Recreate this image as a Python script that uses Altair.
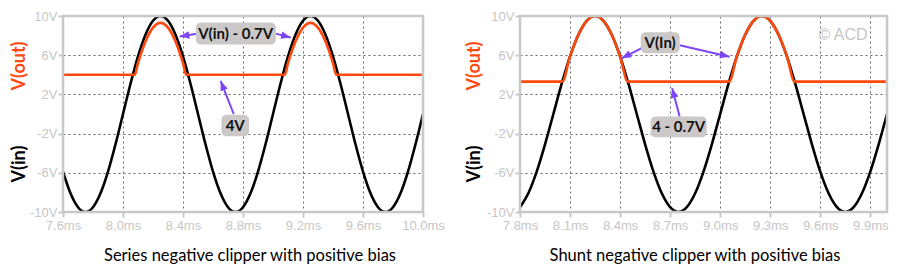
import altair as alt
import pandas as pd

# ---------------- data ----------------
# Left panel: series negative clipper with positive bias
s_t = [7.60, 7.65, 7.70, 7.75, 7.80, 7.85, 7.90, 7.95,
       8.00, 8.05, 8.10, 8.15, 8.20, 8.25, 8.30, 8.35, 8.40, 8.45,
       8.50, 8.55, 8.60, 8.65, 8.70, 8.75, 8.80, 8.85, 8.90, 8.95,
       9.00, 9.05, 9.10, 9.15, 9.20, 9.25, 9.30, 9.35, 9.40, 9.45,
       9.50, 9.55, 9.60, 9.65, 9.70, 9.75, 9.80, 9.85, 9.90, 9.95, 10.00]
s_vin = [-5.88, -8.09, -9.51, -10.0, -9.51, -8.09, -5.88, -3.09,
         0.0, 3.09, 5.88, 8.09, 9.51, 10.0, 9.51, 8.09, 5.88, 3.09,
         0.0, -3.09, -5.88, -8.09, -9.51, -10.0, -9.51, -8.09, -5.88, -3.09,
         0.0, 3.09, 5.88, 8.09, 9.51, 10.0, 9.51, 8.09, 5.88, 3.09,
         0.0, -3.09, -5.88, -8.09, -9.51, -10.0, -9.51, -8.09, -5.88, -3.09, 0.0]
s_out_t = [7.60, 8.078, 8.10, 8.15, 8.20, 8.25, 8.30, 8.35, 8.40, 8.422,
           9.078, 9.10, 9.15, 9.20, 9.25, 9.30, 9.35, 9.40, 9.422, 10.00]
s_vout = [4.0, 4.0, 5.18, 7.39, 8.81, 9.30, 8.81, 7.39, 5.18, 4.0,
          4.0, 5.18, 7.39, 8.81, 9.30, 8.81, 7.39, 5.18, 4.0, 4.0]

# Right panel: shunt negative clipper with positive bias
r_t = [7.80, 7.85, 7.90, 7.95,
       8.00, 8.05, 8.10, 8.15, 8.20, 8.25, 8.30, 8.35, 8.40, 8.45,
       8.50, 8.55, 8.60, 8.65, 8.70, 8.75, 8.80, 8.85, 8.90, 8.95,
       9.00, 9.05, 9.10, 9.15, 9.20, 9.25, 9.30, 9.35, 9.40, 9.45,
       9.50, 9.55, 9.60, 9.65, 9.70, 9.75, 9.80, 9.85, 9.90, 9.95, 10.00]
r_vin = [-9.51, -8.09, -5.88, -3.09,
         0.0, 3.09, 5.88, 8.09, 9.51, 10.0, 9.51, 8.09, 5.88, 3.09,
         0.0, -3.09, -5.88, -8.09, -9.51, -10.0, -9.51, -8.09, -5.88, -3.09,
         0.0, 3.09, 5.88, 8.09, 9.51, 10.0, 9.51, 8.09, 5.88, 3.09,
         0.0, -3.09, -5.88, -8.09, -9.51, -10.0, -9.51, -8.09, -5.88, -3.09, 0.0]
r_out_t = [7.80, 8.054, 8.10, 8.15, 8.20, 8.25, 8.30, 8.35, 8.40, 8.446,
           9.054, 9.10, 9.15, 9.20, 9.25, 9.30, 9.35, 9.40, 9.446, 10.00]
r_vout = [3.3, 3.3, 5.88, 8.09, 9.51, 10.0, 9.51, 8.09, 5.88, 3.3,
          3.3, 5.88, 8.09, 9.51, 10.0, 9.51, 8.09, 5.88, 3.3, 3.3]

y_ticks = [-10, -6, -2, 2, 6, 10]
s_x_ticks = [7.6, 8.0, 8.4, 8.8, 9.2, 9.6, 10.0]
r_x_ticks = [7.8, 8.1, 8.4, 8.7, 9.0, 9.3, 9.6, 9.9]

# annotation labels (anchored in data units)
s_box_label = ["V(in) - 0.7V", "4V"]
s_box_t0 = [8.486, 8.656]
s_box_t1 = [9.019, 8.840]
s_box_v0 = [9.33, -0.07]
s_box_v1 = [7.08, -2.28]
s_box_tc = [8.751, 8.748]
s_box_vc = [8.205, -1.18]
s_arr_t0 = [8.493, 9.018, 8.738]
s_arr_v0 = [8.20, 8.20, 0.00]
s_arr_t1 = [8.378, 9.118, 8.651]
s_arr_v1 = [7.90, 7.80, 3.38]
s_arr_ang = [260, 105, 338.5]

r_box_label = ["V(In)", "4 - 0.7V"]
r_box_t0 = [8.524, 8.583]
r_box_t1 = [8.757, 8.919]
r_box_v0 = [8.33, -0.25]
r_box_v1 = [6.21, -2.37]
r_box_tc = [8.640, 8.751]
r_box_vc = [7.27, -1.31]
r_arr_t0 = [8.541, 8.757, 8.757]
r_arr_v0 = [6.82, 7.02, -0.25]
r_arr_t1 = [8.409, 9.056, 8.712]
r_arr_v1 = [5.68, 5.84, 2.63]
r_arr_ang = [242.8, 103.2, 345.3]

ORANGE = "#ff4a0f"
PURPLE = "#7d45f5"
BOXGRAY = "#ccc8c8"
LIGHT = "#c6c6c6"
ARROW_SHAPE = "M0,0L0.55,1.4L-0.55,1.4Z"


def panel(t, vin, ot, vout, dom, xt, w, h, bl, bt0, bt1, bv0, bv1, btc, bvc,
          at0, av0, at1, av1, aang, title, title_x, yt_x, watermark=None):
    xs = alt.Scale(domain=dom, nice=False, zero=False)
    ys = alt.Scale(domain=[-10, 10], nice=False, zero=False)
    vin_df = pd.DataFrame({"t": t, "v": vin})
    out_df = pd.DataFrame({"t": ot, "v": vout})
    box_df = pd.DataFrame({"label": bl, "t0": bt0, "t1": bt1, "v0": bv0, "v1": bv1,
                           "tc": btc, "vc": bvc})
    arr_df = pd.DataFrame({"t0": at0, "v0": av0, "t1": at1, "v1": av1, "ang": aang})
    one = pd.DataFrame({"k": [0]})

    black = alt.Chart(vin_df).mark_line(color="black", strokeWidth=2.6, clip=True,
                                        interpolate="monotone").encode(
        x=alt.X("t:Q", scale=xs, title=None,
                axis=alt.Axis(values=xt, tickCount=30, labelOverlap=False, labelFlush=False,
                              labelExpr="format(datum.value, '.1f') + 'ms'")),
        y=alt.Y("v:Q", scale=ys, title=None,
                axis=alt.Axis(values=y_ticks, tickCount=30, labelOverlap=False,
                              labelFlush=False, labelExpr="datum.value + 'V'")),
    )
    orange = alt.Chart(out_df).mark_line(color=ORANGE, strokeWidth=2.6, clip=True,
                                         interpolate="monotone").encode(
        x=alt.X("t:Q", title=None), y=alt.Y("v:Q", title=None))
    arrows = alt.Chart(arr_df).mark_rule(color=PURPLE, strokeWidth=2).encode(
        x=alt.X("t0:Q", title=None), y=alt.Y("v0:Q", title=None),
        x2="t1:Q", y2="v1:Q")
    heads = alt.Chart(arr_df).mark_point(shape=ARROW_SHAPE, filled=True, size=190,
                                         color=PURPLE, opacity=1).encode(
        x=alt.X("t1:Q", title=None), y=alt.Y("v1:Q", title=None),
        angle=alt.Angle("ang:Q", scale=None))
    boxes = alt.Chart(box_df).mark_rect(color=BOXGRAY, cornerRadius=5).encode(
        x=alt.X("t0:Q", title=None), x2="t1:Q",
        y=alt.Y("v0:Q", title=None), y2="v1:Q")
    btext = alt.Chart(box_df).mark_text(font="Lato", fontWeight="bold", fontSize=15,
                                        color="#111111", baseline="middle").encode(
        x=alt.X("tc:Q", title=None), y=alt.Y("vc:Q", title=None), text="label:N")
    t_out = alt.Chart(one).mark_text(text="V(out)", angle=270, font="Lato",
                                     fontWeight="bold", fontSize=18, color=ORANGE,
                                     baseline="middle").encode(
        x=alt.value(yt_x), y=alt.value(50))
    t_in = alt.Chart(one).mark_text(text="V(in)", angle=270, font="Lato",
                                    fontWeight="bold", fontSize=18, color="black",
                                    baseline="middle").encode(
        x=alt.value(yt_x), y=alt.value(148))
    t_title = alt.Chart(one).mark_text(text=title, font="Lato", fontSize=16.5,
                                       color="black", baseline="middle").encode(
        x=alt.value(title_x), y=alt.value(239.5))
    border = alt.Chart(one).mark_rect(fillOpacity=0, stroke="#c8c8c8",
                                      strokeWidth=2.5).encode(
        x=alt.value(0), x2=alt.value(w), y=alt.value(0), y2=alt.value(h))
    layers = [black, orange, arrows, heads, boxes, btext, t_out, t_in, t_title]
    if watermark is not None:
        wm = alt.Chart(pd.DataFrame({"t": [watermark[0]], "v": [watermark[1]]})).mark_text(
            text=watermark[2], font="Liberation Sans", fontSize=16, color=LIGHT,
            baseline="middle").encode(x=alt.X("t:Q", title=None), y=alt.Y("v:Q", title=None))
        layers.append(wm)
    layers.append(border)
    return alt.layer(*layers).properties(width=w, height=h)


left = panel(s_t, s_vin, s_out_t, s_vout, [7.6, 10.0], s_x_ticks, 360, 196,
             s_box_label, s_box_t0, s_box_t1, s_box_v0, s_box_v1, s_box_tc, s_box_vc,
             s_arr_t0, s_arr_v0, s_arr_t1, s_arr_v1, s_arr_ang,
             "Series negative clipper with positive bias", 187, -43)
right = panel(r_t, r_vin, r_out_t, r_vout, [7.8, 10.0], r_x_ticks, 367, 196,
              r_box_label, r_box_t0, r_box_t1, r_box_v0, r_box_v1, r_box_tc, r_box_vc,
              r_arr_t0, r_arr_v0, r_arr_t1, r_arr_v1, r_arr_ang,
              "Shunt negative clipper with positive bias", 175, -45,
              watermark=(9.736, 8.03, "© ACD"))

chart = alt.hconcat(left, right, spacing=21).properties(
    padding={"left": 11, "top": 10, "right": 5, "bottom": 5},
    background="white",
).configure_view(stroke=None).configure_axis(
    domain=False,
    labelColor=LIGHT,
    labelFont="Liberation Sans",
    labelFontSize=13,
    labelFlush=False,
    labelOverlap=False,
    labelBound=False,
    tickColor="#c8c8c8",
    tickSize=5,
    tickWidth=2,
    gridColor="#666666",
    gridDash=[2, 3],
    gridWidth=1,
    grid=True,
).configure_axisY(labelPadding=1).configure_axisX(labelPadding=2)

chart.save("out.html", embed_options={"renderer": "svg", "actions": False})
